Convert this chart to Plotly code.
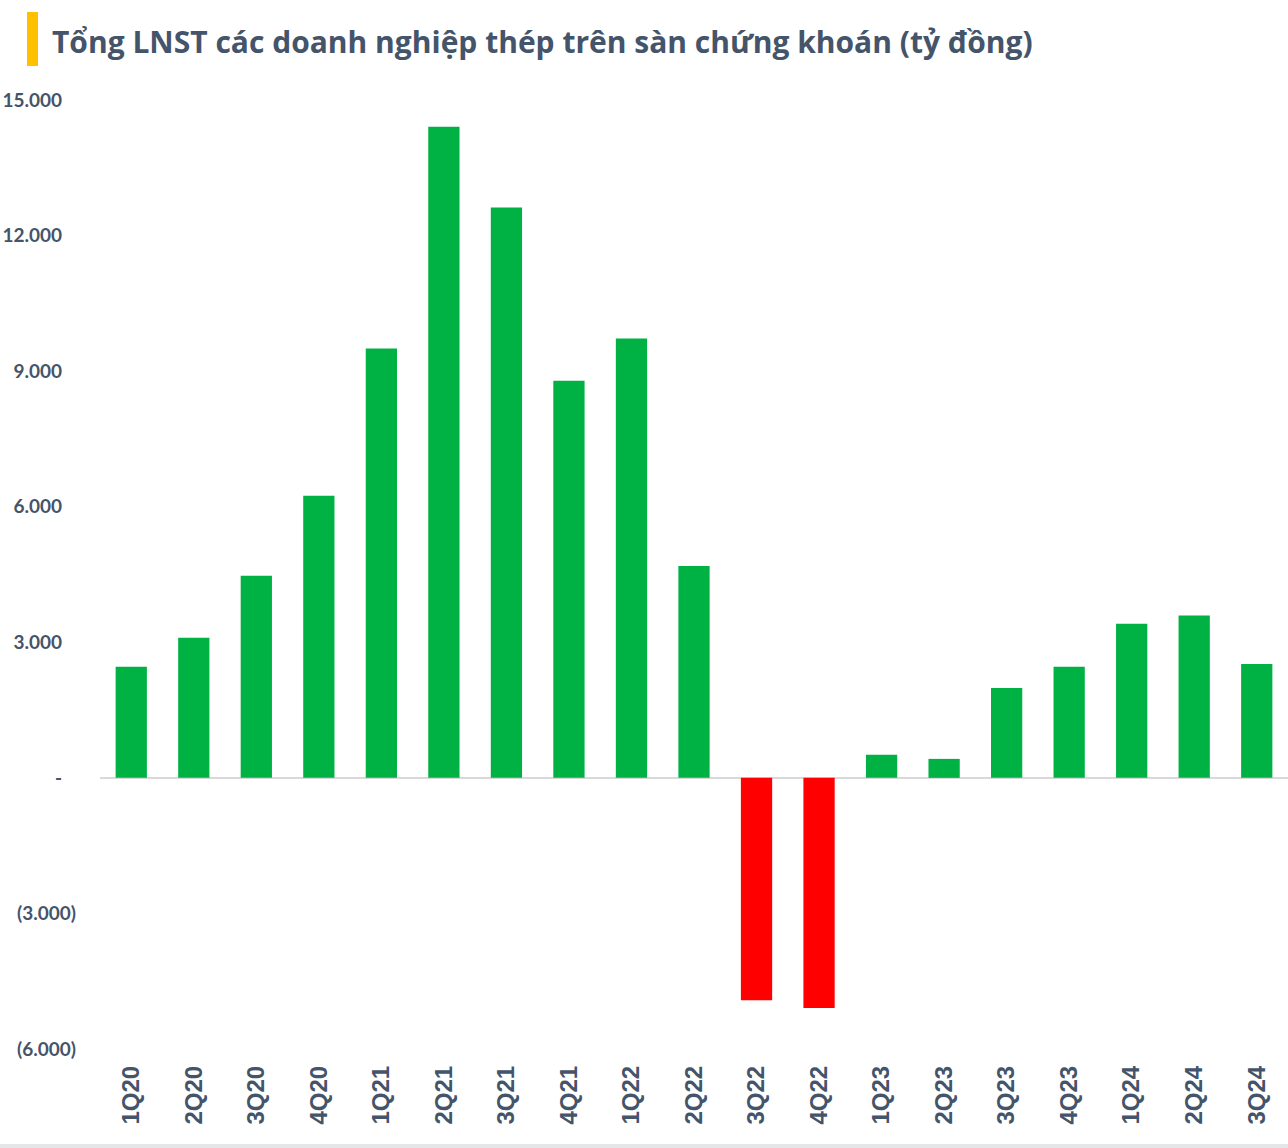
import plotly.graph_objects as go

categories = ["1Q20", "2Q20", "3Q20", "4Q20", "1Q21", "2Q21", "3Q21", "4Q21", "1Q22", "2Q22",
              "3Q22", "4Q22", "1Q23", "2Q23", "3Q23", "4Q23", "1Q24", "2Q24", "3Q24"]
profit = [2460, 3100, 4470, 6240, 9500, 14410, 12620, 8790, 9720, 4690,
          -4920, -5090, 510, 420, 1990, 2460, 3410, 3590, 2520]
tick_vals = [15000, 12000, 9000, 6000, 3000, 0, -3000, -6000]
NB = "\u00a0" * 3
tick_text = ["15.000" + NB, "12.000" + NB, "9.000" + NB, "6.000" + NB, "3.000" + NB,
             "-" + NB, "(3.000)", "(6.000)"]

GREEN = "#00B244"
RED = "#FF0000"
TXT = "#44546A"
colors = [GREEN if v >= 0 else RED for v in profit]

W, H = 1288, 1148
# plot area in page pixels: x 100..1288, y 100..1049
L, R, T, B = 100, 0, 100, 1148 - 1049
pw, ph = W - L - R, H - T - B


def px(x):
    return (x - L) / pw


def py(y):
    return (H - B - y) / ph


fig = go.Figure(go.Bar(x=categories, y=profit, marker_color=colors, marker_line_width=0))

fig.update_layout(
    width=W, height=H,
    margin=dict(l=L, r=R, t=T, b=B, autoexpand=False),
    plot_bgcolor="white", paper_bgcolor="white",
    bargap=0.5,
    showlegend=False,
    font=dict(family="Lato", color=TXT),
)
fig.update_xaxes(
    tickangle=-90, tickfont=dict(family="Liberation Sans", size=24, color=TXT, weight="bold"),
    showgrid=False, showline=False, ticks="", ticklabelstandoff=11, automargin=False,
)
fig.update_yaxes(
    range=[-6000, 15000], tickvals=tick_vals, ticktext=tick_text,
    tickfont=dict(family="Lato", size=19, color=TXT, weight="bold"),
    showgrid=False, zeroline=True, zerolinecolor="#D9D9D9", zerolinewidth=2,
    showline=False, ticks="", ticklabelstandoff=23, automargin=False,
)
# yellow accent bar
fig.add_shape(type="rect", xref="paper", yref="paper",
              x0=px(27), x1=px(38), y0=py(66), y1=py(12),
              fillcolor="#FFC000", line_width=0)
# bottom border
fig.add_shape(type="rect", xref="paper", yref="paper",
              x0=px(0), x1=px(1288), y0=py(1148), y1=py(1144),
              fillcolor="#E4E6EA", line_width=0)
fig.add_annotation(
    text="Tổng LNST các doanh nghiệp thép trên sàn chứng khoán (tỷ đồng)",
    xref="paper", yref="paper", x=px(50), y=py(41), xanchor="left", yanchor="middle",
    showarrow=False, font=dict(family="Open Sans", size=30, color=TXT, weight="bold"),
)
fig.write_html("out.html", post_script="document.body.style.margin='0';",
               config={"displayModeBar": False})
